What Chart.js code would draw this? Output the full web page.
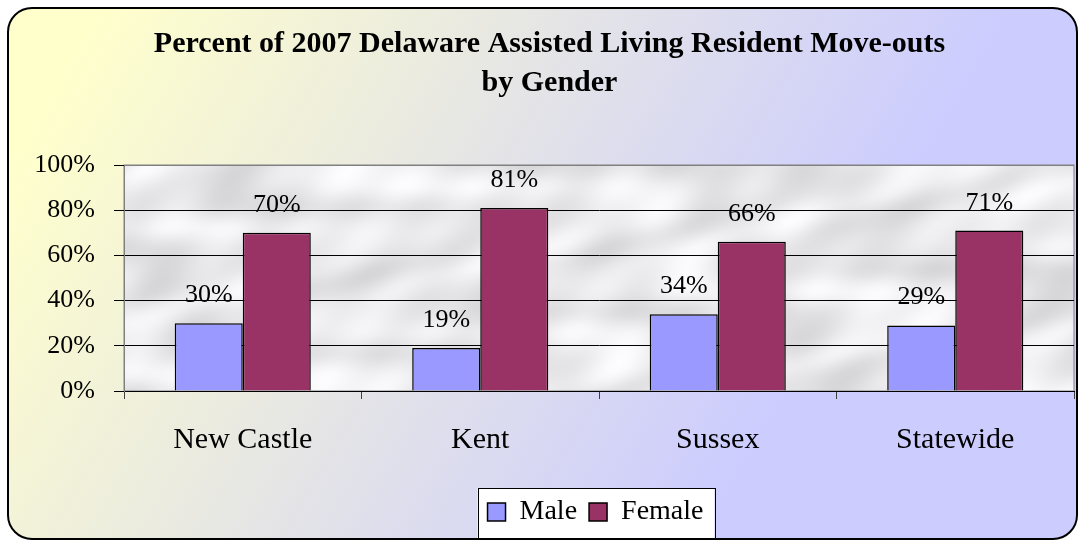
<!DOCTYPE html>
<html>
    <head>
        <meta charset="utf-8">
        <script src="https://cdn.jsdelivr.net/npm/chart.js@4.4.0/dist/chart.umd.min.js"></script>
        <style>
            body { margin: 0; background: #ffffff; }
        </style>
    </head>
    <body>
        <div style="width: 1081px; height: 543px;">
            <canvas id="wykres" width="1081" height="543"></canvas>
        </div>
        <script>
            var kategorie = ["New Castle", "Kent", "Sussex", "Statewide"];
            var mezczyzni = [30, 19, 34, 29];
            var kobiety = [70, 81, 66, 71];
            var tytul = ["Percent of 2007 Delaware Assisted Living Resident Move-outs", "by Gender"];
            var czcionka = "'Liberation Serif', 'Times New Roman', serif";

            // marble-like texture for the plot area (decoration only)
            var marmur = null;
            function zrobMarmur(w, h) {
                var c = document.createElement("canvas");
                c.width = w; c.height = h;
                var g = c.getContext("2d");
                var img = g.createImageData(w, h);
                for (var y = 0; y < h; y++) {
                    for (var x = 0; x < w; x++) {
                        var t = Math.sin(x * 0.021 + 3 * Math.sin(y * 0.043 + x * 0.006))
                              + 0.6 * Math.sin((x - y) * 0.031 + 2 * Math.sin(x * 0.011))
                              + 0.4 * Math.sin(x * 0.09 + y * 0.07);
                        var v = 233 + t * 10;
                        var i = (y * w + x) * 4;
                        img.data[i] = v; img.data[i + 1] = v; img.data[i + 2] = v + 2; img.data[i + 3] = 255;
                    }
                }
                g.putImageData(img, 0, 0);
                return c;
            }

            var tlo = {
                id: "tlo",
                afterUpdate: function(chart) {
                    // legend box sits right of centre in the original
                    var lg = chart.legend, dx = 46;
                    lg.left += dx; lg.right += dx;
                    (lg.legendHitBoxes || []).forEach(function(h) { h.left += dx; });
                },
                beforeDraw: function(chart) {
                    var ctx = chart.ctx;
                    var a = chart.chartArea;
                    ctx.save();
                    var gr = ctx.createLinearGradient(80, 40, 760, 440);
                    gr.addColorStop(0, "#FFFFCC");
                    gr.addColorStop(1, "#CCCCFF");
                    ctx.beginPath();
                    ctx.roundRect(8, 8, 1069, 531, 24);
                    ctx.fillStyle = gr;
                    ctx.fill();
                    ctx.lineWidth = 2;
                    ctx.strokeStyle = "#000000";
                    ctx.stroke();

                    if (!marmur) marmur = zrobMarmur(Math.round(a.right - a.left), Math.round(a.bottom - a.top));
                    ctx.drawImage(marmur, a.left, a.top, a.right - a.left, a.bottom - a.top);
                    ctx.lineWidth = 1;
                    ctx.strokeStyle = "#808080";
                    ctx.strokeRect(a.left, a.top, a.right - a.left, a.bottom - a.top);

                    var hb = chart.legend.legendHitBoxes;
                    if (hb && hb.length) {
                        var ost = hb[hb.length - 1];
                        var l = hb[0].left - 10, r = ost.left + ost.width + 11;
                        var sr = hb[0].top + hb[0].height / 2;
                        var t = sr - 24, b = sr + 26;
                        ctx.fillStyle = "#ffffff";
                        ctx.fillRect(l, t, r - l, b - t);
                        ctx.strokeStyle = "#000000";
                        ctx.lineWidth = 1;
                        ctx.strokeRect(Math.round(l) + 0.5, Math.round(t) + 0.5, Math.round(r - l), Math.round(b - t));
                    }
                    ctx.restore();
                }
            };

            var etykiety = {
                id: "etykiety",
                afterDatasetsDraw: function(chart) {
                    var ctx = chart.ctx;
                    ctx.save();
                    ctx.font = "26px " + czcionka;
                    ctx.fillStyle = "#000000";
                    ctx.textAlign = "center";
                    ctx.textBaseline = "alphabetic";
                    chart.data.datasets.forEach(function(ds, i) {
                        chart.getDatasetMeta(i).data.forEach(function(bar, j) {
                            ctx.fillText(ds.data[j] + "%", bar.x, bar.y - 21);
                        });
                    });
                    ctx.restore();
                }
            };

            var dane = {
                labels: kategorie,
                datasets: [
                    { label: "Male", data: mezczyzni, backgroundColor: "#9999FF", borderColor: "#000000", borderWidth: 1.5 },
                    { label: "Female", data: kobiety, backgroundColor: "#993366", borderColor: "#000000", borderWidth: 1.5 }
                ]
            };

            const ctx = document.getElementById("wykres").getContext("2d");
            const wykres = new Chart(ctx, {
                type: "bar",
                data: dane,
                plugins: [tlo, etykiety],
                options: {
                    responsive: false,
                    animation: false,
                    layout: { padding: { left: 25, right: 7, top: 0, bottom: 7 } },
                    datasets: { bar: { categoryPercentage: 0.573, barPercentage: 1.0 } },
                    scales: {
                        x: {
                            afterFit: function(s) { s.height += 5; },
                            grid: { offset: true, drawOnChartArea: false, tickLength: 8, color: "#404040" },
                            border: { color: "#000000" },
                            ticks: { color: "#000000", padding: 23, font: { family: czcionka, size: 30 } }
                        },
                        y: {
                            min: 0, max: 100,
                            afterFit: function(s) { s.width = 99; },
                            ticks: { stepSize: 20, color: "#000000", padding: 19,
                                callback: function(v) { return v + "%"; },
                                font: { family: czcionka, size: 26 } },
                            grid: { tickLength: 10, tickColor: "#000000",
                                color: function(c) { return c.tick && c.tick.value === 100 ? "#808080" : "#000000"; } },
                            border: { color: "#808080" }
                        }
                    },
                    plugins: {
                        title: {
                            display: true, text: tytul, color: "#000000",
                            font: { family: czcionka, size: 30, weight: "bold", lineHeight: 1.3 },
                            padding: { top: 24.5, bottom: 62.5 }
                        },
                        legend: {
                            position: "bottom",
                            labels: { color: "#000000", boxWidth: 18, boxHeight: 18, padding: 12,
                                font: { family: czcionka, size: 28 } }
                        },
                        tooltip: { enabled: false }
                    }
                }
            });
        </script>
    </body>
</html>
